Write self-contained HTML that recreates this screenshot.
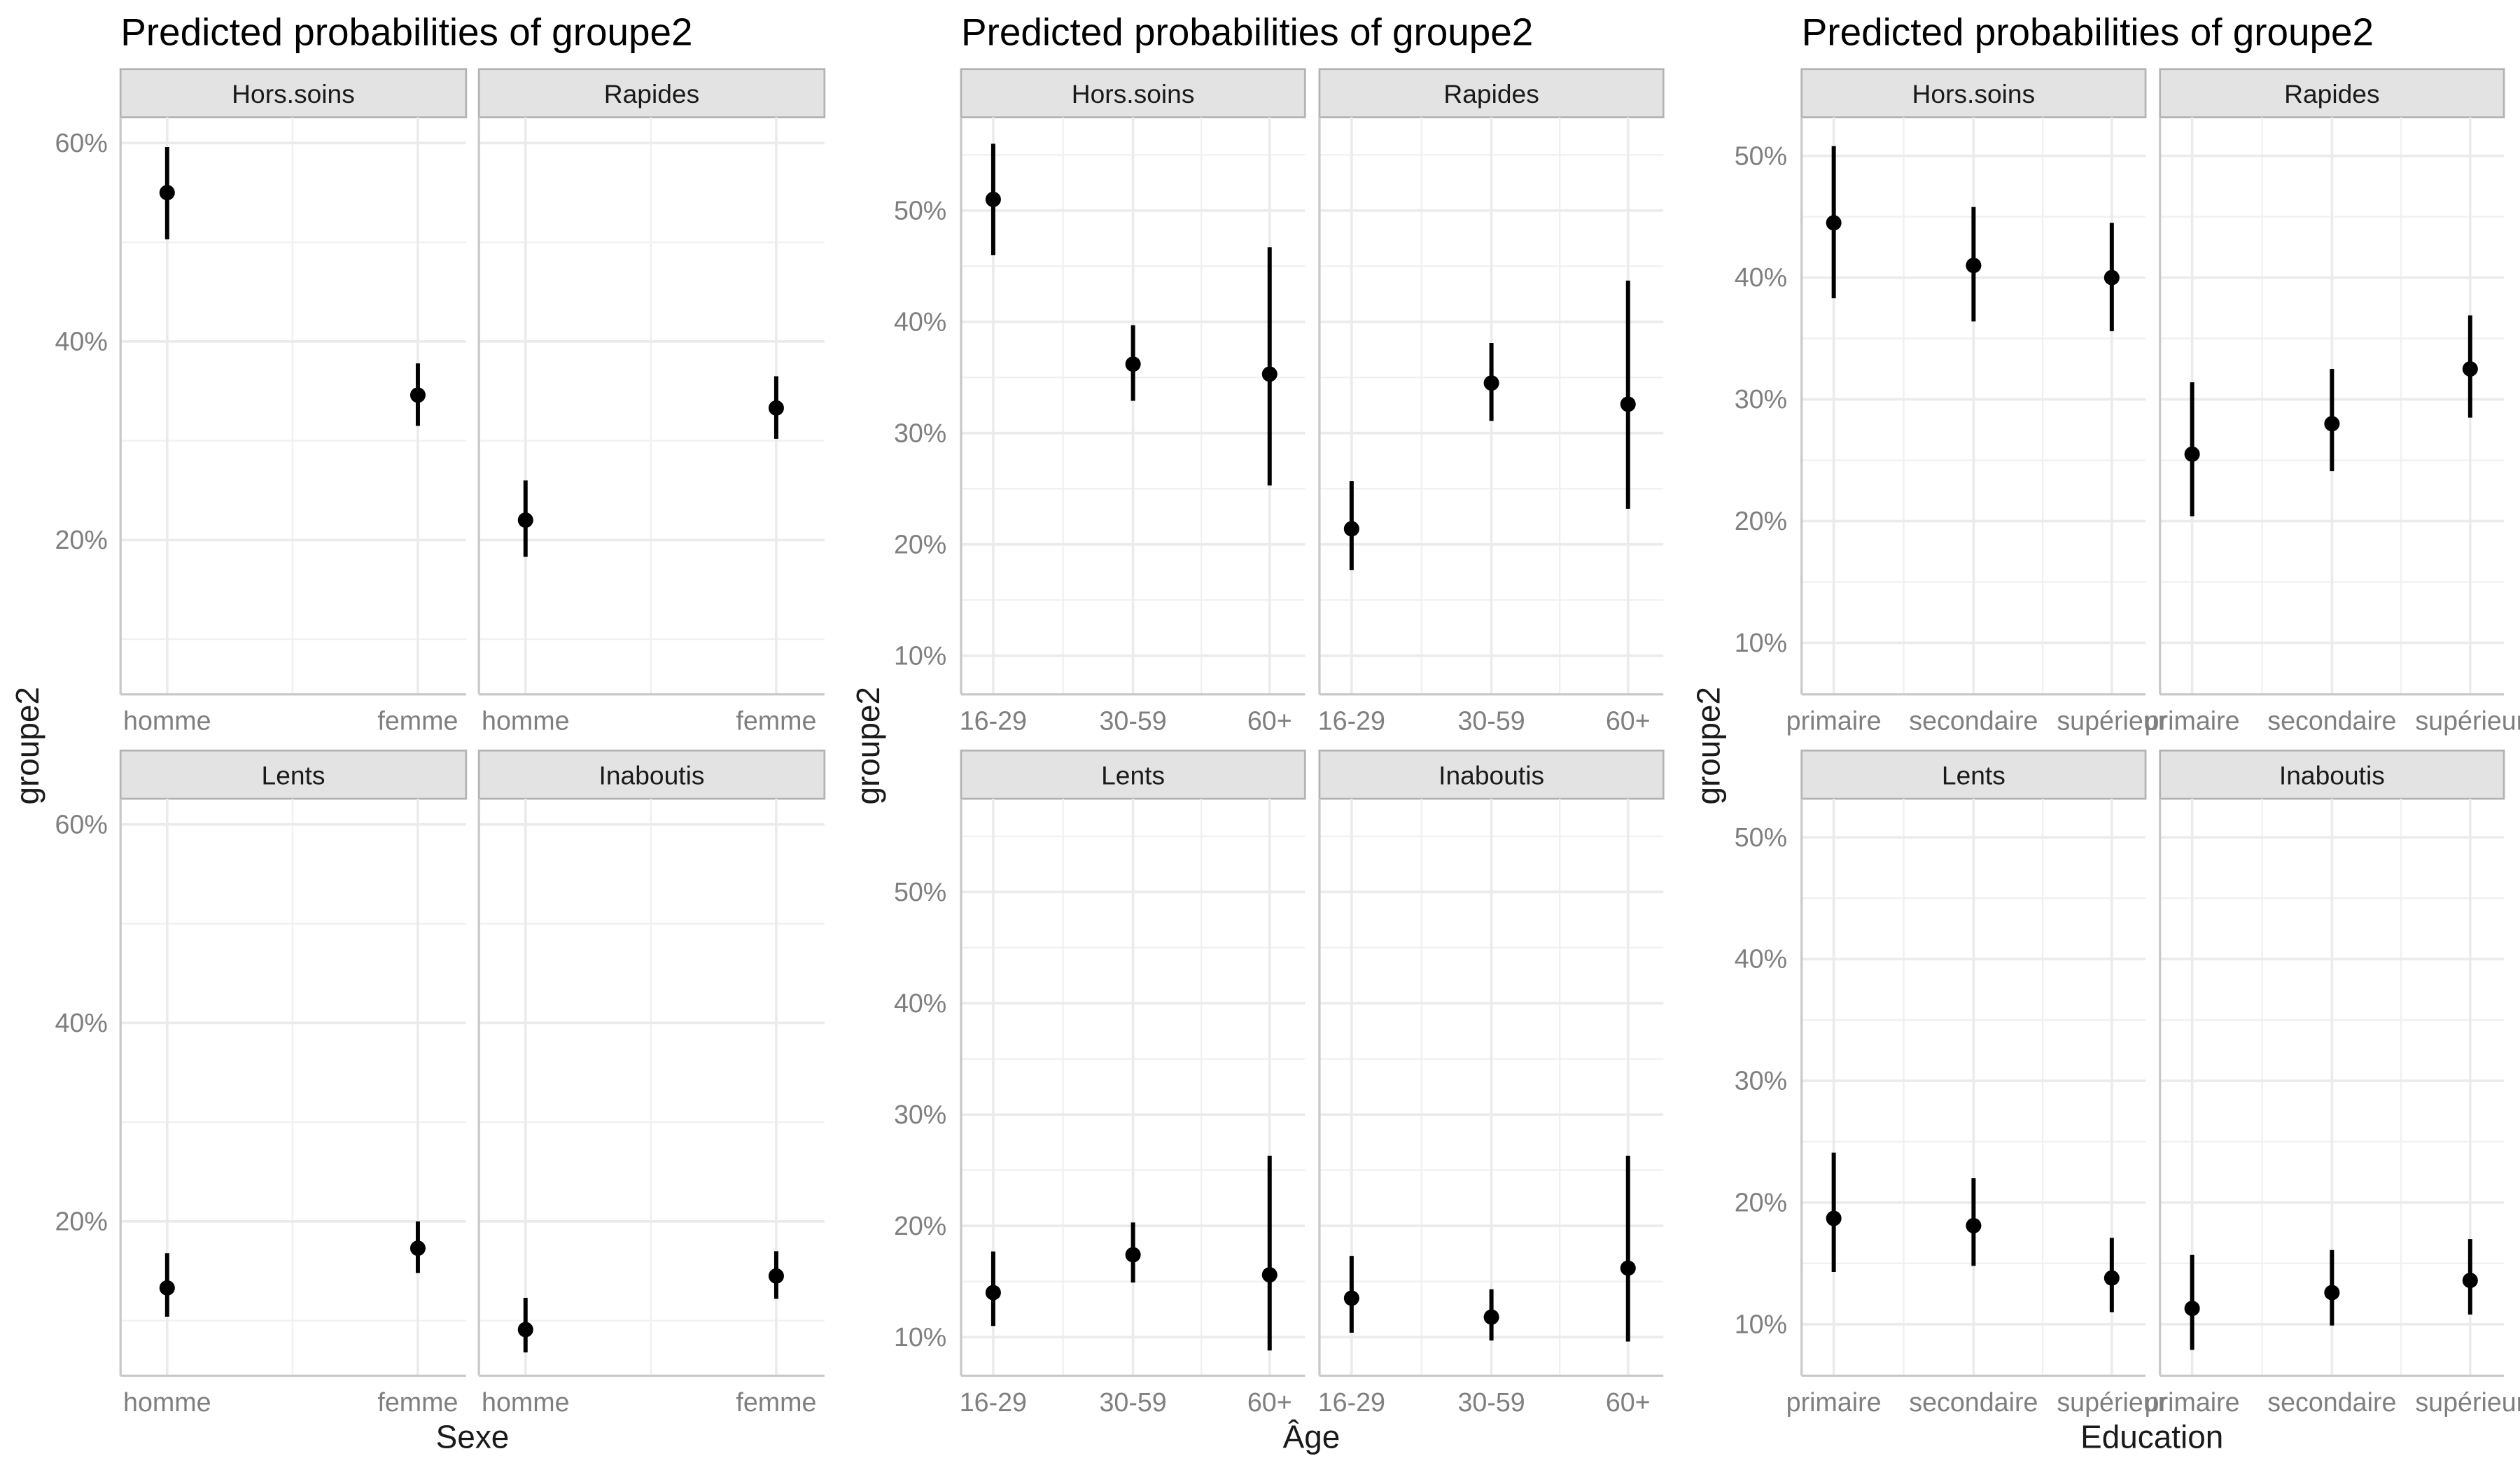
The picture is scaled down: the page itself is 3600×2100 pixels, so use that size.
<!DOCTYPE html>
<html><head><meta charset="utf-8"><style>
html,body{margin:0;padding:0;background:#fff}
svg{display:block}
text{font-family:"Liberation Sans",Arial,sans-serif}
</style></head><body>
<svg id="chart" xmlns="http://www.w3.org/2000/svg" width="3600" height="2100" viewBox="0 0 1568 914.67">
<rect width="1568" height="914.67" fill="#fff"/>
</svg>
<script>
const facetNames = ["Hors.soins","Rapides","Lents","Inaboutis"];
const sexeCats = ["homme","femme"];
const ageCats = ["16-29","30-59","60+"];
const eduCats = ["primaire","secondaire","supérieur"];
const sexeEst = [[55,34.6],[22,33.3],[13.3,17.3],[9.1,14.5]];
const sexeLow = [[50.3,31.5],[18.3,30.2],[10.4,14.8],[6.8,12.2]];
const sexeHigh = [[59.6,37.8],[26,36.5],[16.8,20],[12.3,17]];
const ageEst = [[51,36.2,35.3],[21.4,34.5,32.6],[14,17.4,15.6],[13.5,11.8,16.2]];
const ageLow = [[46,32.9,25.3],[17.7,31.1,23.2],[11,14.9,8.8],[10.4,9.7,9.6]];
const ageHigh = [[56,39.7,46.7],[25.7,38.1,43.7],[17.7,20.3,26.3],[17.3,14.3,26.3]];
const eduEst = [[44.5,41,40],[25.5,28,32.5],[18.7,18.1,13.8],[11.3,12.6,13.6]];
const eduLow = [[38.3,36.4,35.6],[20.4,24.1,28.5],[14.3,14.8,11],[7.9,9.9,10.8]];
const eduHigh = [[50.8,45.8,44.5],[31.4,32.5,36.9],[24.1,22,17.1],[15.7,16.1,17]];
const sexeTicks = [20,40,60];
const ageTicks = [10,20,30,40,50];
const eduTicks = [10,20,30,40,50];

const NS="http://www.w3.org/2000/svg";
const svg=document.getElementById('chart');
function mk(tag,attrs,parent,txt){const e=document.createElementNS(NS,tag);for(const k in attrs)e.setAttribute(k,attrs[k]);if(txt!==undefined)e.textContent=txt;(parent||svg).appendChild(e);return e;}

const charts=[
 {key:"sexe",cats:sexeCats,est:sexeEst,low:sexeLow,high:sexeHigh,ticks:sexeTicks,minor:[10,30,50],
  left:[75,298],w:215,catOff:[29,185],tickRef:[60,40],tickPx:[89,212.5],xTitle:"Sexe",xTitleX:294,titleX:75,ylabX:24,tickLabX:67},
 {key:"age",cats:ageCats,est:ageEst,low:ageLow,high:ageHigh,ticks:ageTicks,minor:[15,25,35,45,55],
  left:[598,821],w:214,catOff:[20,107,192],tickRef:[50,10],tickPx:[131,408],xTitle:"Âge",xTitleX:816,titleX:598,ylabX:547,tickLabX:589},
 {key:"edu",cats:eduCats,est:eduEst,low:eduLow,high:eduHigh,ticks:eduTicks,minor:[15,25,35,45],
  left:[1121,1344],w:214,catOff:[20,107,193],tickRef:[50,10],tickPx:[97,400],xTitle:"Education",xTitleX:1339,titleX:1121,ylabX:1070,tickLabX:1112}
];
const rows=[{stripY:43,top:73,bottom:432,off:0},{stripY:467,top:497,bottom:856,off:424}];

charts.forEach((c,ci)=>{
  const g=mk('g',{},svg);
  
  
  const t=mk('text',{x:c.titleX,y:28,'font-size':23.9,fill:'#000'},g,'Predicted probabilities of groupe2');
  
  
  const yl=mk('text',{x:c.ylabX,y:464,'font-size':20,fill:'#1a1a1a','text-anchor':'middle',transform:`rotate(-90 ${c.ylabX} 464)`},g,'groupe2');
  
  
  const xt=mk('text',{x:c.xTitleX,y:901,'font-size':20,fill:'#1a1a1a','text-anchor':'middle'},g,c.xTitle);
  
  
  const per=(c.tickPx[1]-c.tickPx[0])/(c.tickRef[1]-c.tickRef[0]);
  facetNames.forEach((fn,fi)=>{
    const r=rows[Math.floor(fi/2)], x0=c.left[fi%2], x1=x0+c.w;
    const y=v=>c.tickPx[0]+(v-c.tickRef[0])*per+r.off;
    const xs=c.cats.map((_,k)=>x0+c.catOff[k]);
    const fg=mk('g',{},g);
    
    
    const s=mk('rect',{x:x0,y:r.stripY,width:c.w,height:30,fill:'#e3e3e3',stroke:'#b3b3b3','stroke-width':1.2},fg);
    
    
    const st=mk('text',{x:x0+c.w/2,y:r.stripY+21,'font-size':16.2,fill:'#1a1a1a','text-anchor':'middle'},fg,fn);
    
    
    c.minor.forEach(v=>{const yy=y(v);if(yy>r.top&&yy<r.bottom){const l=mk('line',{x1:x0,x2:x1,y1:yy,y2:yy,stroke:'#f0f0f0','stroke-width':1},fg);}});
    for(let k=0;k<xs.length-1;k++){const mx=(xs[k]+xs[k+1])/2;const l=mk('line',{x1:mx,x2:mx,y1:r.top,y2:r.bottom,stroke:'#f0f0f0','stroke-width':1},fg);}
    c.ticks.forEach(v=>{const yy=y(v);const l=mk('line',{x1:x0,x2:x1,y1:yy,y2:yy,stroke:'#ebebeb','stroke-width':1.6},fg);
      if(fi%2===0){const tl=mk('text',{x:c.tickLabX,y:yy+5.5,'font-size':16.4,fill:'#7f7f7f','text-anchor':'end'},fg,v+'%');}});
    xs.forEach((xx,k)=>{const l=mk('line',{x1:xx,x2:xx,y1:r.top,y2:r.bottom,stroke:'#ebebeb','stroke-width':1.6},fg);
      const tl=mk('text',{x:xx,y:r.bottom+22,'font-size':16.4,fill:'#7f7f7f','text-anchor':'middle'},fg,c.cats[k]);});
    const al=mk('line',{x1:x0,x2:x0,y1:r.top,y2:r.bottom,stroke:'#c8c8c8','stroke-width':1.4},fg);
    const bl=mk('line',{x1:x0,x2:x1,y1:r.bottom,y2:r.bottom,stroke:'#c8c8c8','stroke-width':1.4},fg);
    xs.forEach((xx,k)=>{
      const e=mk('line',{x1:xx,x2:xx,y1:y(c.low[fi][k]),y2:y(c.high[fi][k]),stroke:'#000','stroke-width':2.6},fg);
      
      
      const p=mk('circle',{cx:xx,cy:y(c.est[fi][k]),r:4.8,fill:'#000'},fg);
      
      
    });
  });
});
</script>
</body></html>
